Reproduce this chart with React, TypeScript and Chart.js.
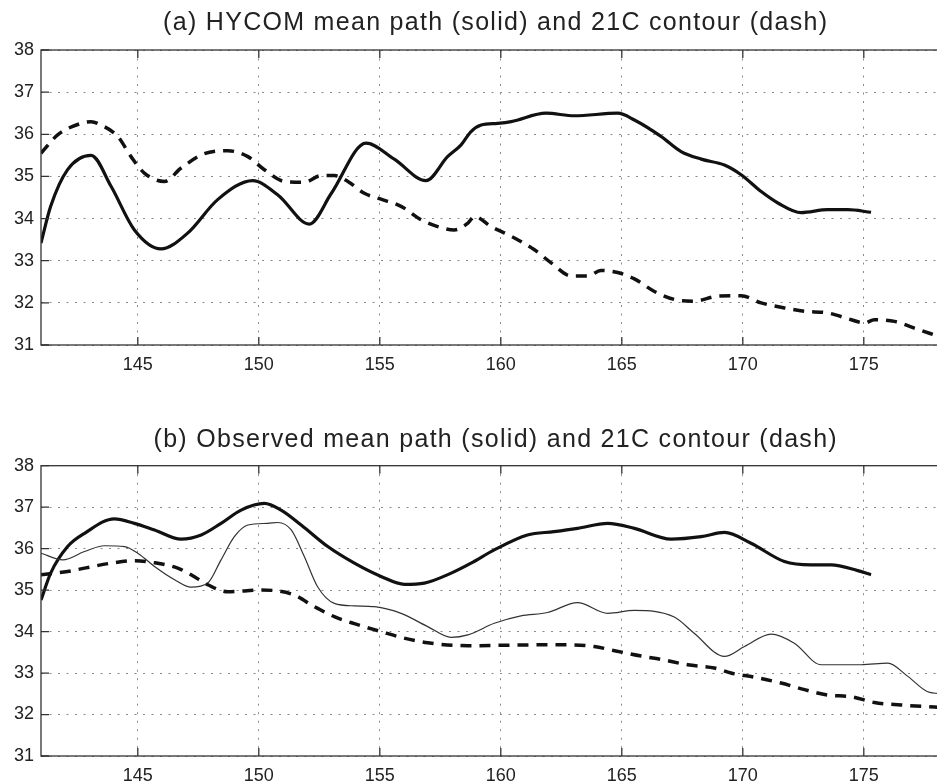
import React, { useEffect, useRef } from "react";
import { Chart, registerables } from "chart.js";

Chart.register(...registerables);

// ---------- data ----------
const xTicks = [145, 150, 155, 160, 165, 170, 175];
const yTicks = [31, 32, 33, 34, 35, 36, 37, 38];
const xMin = 141;
const xMax = 178.5;
const yMin = 31;
const yMax = 38;

const titleA = "(a) HYCOM mean path (solid) and 21C contour (dash)";
const titleB = "(b) Observed mean path (solid) and 21C contour (dash)";

// Panel (a): HYCOM mean path (solid)
const aSolidX = [141, 141.4, 142.1, 143.07, 143.9, 144.86, 145.96, 147.07, 148.3, 149.75, 150.79, 152.09, 153.0, 154.43, 155.6, 156.91, 157.8, 158.36, 158.76, 159.19, 159.87, 160.43, 161.87, 163.04, 164.83, 165.52, 166.62, 167.45, 168.28, 169.24, 169.93, 170.76, 171.45, 172.41, 173.51, 174.34, 175.3];
const aSolidY = [33.42, 34.29, 35.16, 35.5, 34.76, 33.73, 33.28, 33.66, 34.45, 34.9, 34.56, 33.87, 34.6, 35.79, 35.41, 34.9, 35.47, 35.75, 36.06, 36.22, 36.26, 36.3, 36.5, 36.44, 36.5, 36.34, 35.95, 35.59, 35.41, 35.27, 35.04, 34.64, 34.37, 34.14, 34.21, 34.21, 34.15];

// Panel (a): HYCOM 21C contour (dash)
const aDashX = [141, 141.7, 142.66, 143.07, 143.48, 144.17, 144.72, 145.27, 146.1, 146.79, 147.75, 148.72, 149.55, 150.23, 151.06, 151.88, 152.57, 153.12, 153.68, 154.36, 155.05, 155.88, 156.71, 157.39, 158.08, 158.64, 158.91, 159.6, 160.43, 161.39, 162.08, 162.91, 163.6, 164.14, 164.83, 165.52, 166.35, 167.17, 168.0, 168.96, 169.93, 170.76, 171.72, 172.55, 173.51, 174.48, 175.03, 175.44, 176.27, 177.09, 178.06];
const aDashY = [35.55, 35.99, 36.26, 36.3, 36.22, 35.95, 35.47, 35.08, 34.88, 35.2, 35.54, 35.61, 35.47, 35.16, 34.88, 34.86, 35.02, 35.02, 34.88, 34.6, 34.46, 34.29, 33.97, 33.81, 33.73, 33.89, 34.05, 33.81, 33.58, 33.26, 32.95, 32.64, 32.64, 32.77, 32.72, 32.57, 32.27, 32.08, 32.04, 32.16, 32.17, 32.0, 31.88, 31.8, 31.76, 31.6, 31.52, 31.6, 31.56, 31.4, 31.21];

// Panel (b): observed mean path (thick solid)
const bSolidX = [141, 141.4, 142.1, 142.8, 144.03, 144.86, 145.69, 146.79, 147.62, 148.44, 149.27, 150.23, 150.92, 151.75, 152.85, 153.95, 155.05, 156.02, 156.84, 157.95, 158.77, 159.73, 161.1, 162.2, 163.17, 164.42, 165.52, 167.04, 168.28, 169.24, 170.34, 171.72, 172.82, 173.65, 174.75, 175.3];
const bSolidY = [34.76, 35.41, 36.05, 36.37, 36.72, 36.61, 36.45, 36.23, 36.33, 36.61, 36.93, 37.09, 36.93, 36.57, 36.05, 35.65, 35.33, 35.14, 35.17, 35.41, 35.65, 35.97, 36.33, 36.41, 36.49, 36.61, 36.49, 36.23, 36.29, 36.39, 36.13, 35.69, 35.61, 35.61, 35.47, 35.37];

// Panel (b): observed (thin solid)
const bThinX = [141, 141.9, 142.8, 143.62, 144.45, 145, 145.69, 146.52, 147.2, 147.89, 148.44, 148.99, 149.55, 150.37, 150.79, 151.34, 151.88, 152.43, 153.12, 153.95, 154.78, 155.88, 156.98, 157.95, 158.64, 159.73, 160.83, 161.93, 163.17, 164.42, 165.52, 167.17, 167.99, 169.24, 170.07, 171.17, 172.13, 173.24, 174.89, 175.99, 176.82, 177.64, 178.3];
const bThinY = [35.89, 35.73, 35.93, 36.07, 36.05, 35.89, 35.57, 35.25, 35.07, 35.17, 35.73, 36.29, 36.57, 36.61, 36.63, 36.45, 35.81, 35.08, 34.68, 34.62, 34.6, 34.44, 34.12, 33.86, 33.92, 34.2, 34.38, 34.46, 34.7, 34.44, 34.51, 34.35, 33.96, 33.4, 33.64, 33.94, 33.72, 33.2, 33.2, 33.24, 32.92, 32.55, 32.5];

// Panel (b): observed 21C contour (dash)
const bDashX = [141, 142.1, 142.8, 143.9, 144.86, 145.69, 146.65, 147.2, 147.89, 148.72, 150.09, 150.64, 151.47, 152.3, 153.12, 153.95, 155.05, 155.88, 156.98, 158.64, 161.65, 162.9, 163.86, 164.7, 165.8, 166.62, 167.72, 168.83, 169.51, 170.48, 171.58, 172.55, 173.51, 174.48, 175.44, 176.54, 177.92, 178.5];
const bDashY = [35.37, 35.45, 35.53, 35.65, 35.71, 35.66, 35.53, 35.37, 35.13, 34.96, 35.0, 34.99, 34.88, 34.6, 34.36, 34.19, 34.0, 33.86, 33.73, 33.66, 33.68, 33.68, 33.64, 33.54, 33.41, 33.33, 33.2, 33.12, 33.0, 32.9, 32.76, 32.6, 32.47, 32.43, 32.29, 32.23, 32.18, 32.16];

// ---------- helpers ----------
const toPts = (xs: number[], ys: number[]) => xs.map((x, i) => ({ x, y: ys[i] }));

const FONT = "'Liberation Sans', Arial, Helvetica, sans-serif";
const TEXT = "#222";

const framePlugin = {
  id: "matlabFrame",
  afterDatasetsDraw(chart: any) {
    const { ctx, chartArea, scales } = chart;
    const { left, right, top, bottom } = chartArea;
    ctx.save();
    ctx.strokeStyle = "#333";
    ctx.lineWidth = 1.3;
    ctx.setLineDash([]);
    ctx.strokeRect(left, top, right - left, bottom - top);
    const tl = 8;
    ctx.beginPath();
    xTicks.forEach((v) => {
      const px = scales.x.getPixelForValue(v);
      ctx.moveTo(px, bottom);
      ctx.lineTo(px, bottom - tl);
      ctx.moveTo(px, top);
      ctx.lineTo(px, top + tl);
    });
    yTicks.forEach((v) => {
      const py = scales.y.getPixelForValue(v);
      ctx.moveTo(left, py);
      ctx.lineTo(left + tl, py);
      ctx.moveTo(right, py);
      ctx.lineTo(right - tl, py);
    });
    ctx.stroke();
    ctx.restore();
  },
};

// Title drawn centred over the plot area (MATLAB style)
const panelTitlePlugin = {
  id: "panelTitle",
  afterDraw(chart: any, _args: any, opts: any) {
    const { ctx, chartArea } = chart;
    ctx.save();
    ctx.font = `25px ${FONT}`;
    ctx.fillStyle = TEXT;
    ctx.textAlign = "center";
    ctx.textBaseline = "middle";
    try {
      (ctx as any).letterSpacing = "1.3px";
    } catch (e) {}
    ctx.fillText(opts.text, (chartArea.left + chartArea.right) / 2 + 1, opts.y);
    ctx.restore();
  },
};

function makeConfig(title: string, titleY: number, datasets: any[], plotTop: number, xAxisHeight: number) {
  return {
    type: "line",
    data: { datasets },
    options: {
      animation: false,
      responsive: false,
      maintainAspectRatio: false,
      events: [],
      layout: { padding: { left: 0, right: 1.5, top: plotTop, bottom: 0 } },
      elements: { point: { radius: 0 } },
      plugins: {
        legend: { display: false },
        tooltip: { enabled: false },
        title: { display: false },
        panelTitle: { text: title, y: titleY },
      },
      scales: {
        x: {
          type: "linear",
          min: xMin,
          max: xMax,
          afterBuildTicks: (s: any) => {
            s.ticks = xTicks.map((v) => ({ value: v }));
          },
          afterFit: (s: any) => {
            s.height = xAxisHeight;
          },
          grid: { color: "#8a8a8a", lineWidth: 1, drawTicks: false },
          border: { display: false, dash: [2, 6.5] },
          ticks: {
            color: TEXT,
            padding: 9,
            maxRotation: 0,
            autoSkip: false,
            font: { family: FONT, size: 18 },
          },
        },
        y: {
          type: "linear",
          min: yMin,
          max: yMax,
          afterBuildTicks: (s: any) => {
            s.ticks = yTicks.map((v) => ({ value: v }));
          },
          afterFit: (s: any) => {
            s.width = 41;
          },
          grid: { color: "#8a8a8a", lineWidth: 1, drawTicks: false },
          border: { display: false, dash: [2, 6.5] },
          ticks: {
            color: TEXT,
            padding: 7,
            autoSkip: false,
            font: { family: FONT, size: 18 },
          },
        },
      },
    },
    plugins: [framePlugin, panelTitlePlugin],
  };
}

const solidStyle = {
  borderColor: "#111",
  borderWidth: 3.2,
  cubicInterpolationMode: "monotone",
  fill: false,
};
const dashStyle = {
  borderColor: "#111",
  borderWidth: 3.5,
  borderDash: [11, 8],
  cubicInterpolationMode: "monotone",
  fill: false,
};
const thinStyle = {
  borderColor: "#333",
  borderWidth: 1.2,
  cubicInterpolationMode: "monotone",
  fill: false,
};

function Panel({ config, top, height }: { config: any; top: number; height: number }) {
  const ref = useRef<HTMLCanvasElement | null>(null);
  useEffect(() => {
    if (!ref.current) return;
    const chart = new Chart(ref.current, config);
    return () => chart.destroy();
  }, [config]);
  return (
    <canvas
      ref={ref}
      width={950}
      height={height}
      style={{ position: "absolute", left: 0, top, width: 950, height }}
    />
  );
}

const configA = makeConfig(
  titleA,
  23,
  [
    { ...dashStyle, data: toPts(aDashX, aDashY) },
    { ...solidStyle, data: toPts(aSolidX, aSolidY) },
  ],
  50,
  50
);

const configB = makeConfig(
  titleB,
  40,
  [
    { ...dashStyle, data: toPts(bDashX, bDashY) },
    { ...thinStyle, data: toPts(bThinX, bThinY) },
    { ...solidStyle, data: toPts(bSolidX, bSolidY) },
  ],
  65.7,
  28
);

export default function App() {
  return (
    <div
      style={{
        position: "fixed",
        left: 0,
        top: 0,
        width: 937,
        height: 784,
        overflow: "hidden",
        background: "#fff",
      }}
    >
      <Panel config={configA} top={0} height={395} />
      <Panel config={configB} top={400} height={384} />
    </div>
  );
}
